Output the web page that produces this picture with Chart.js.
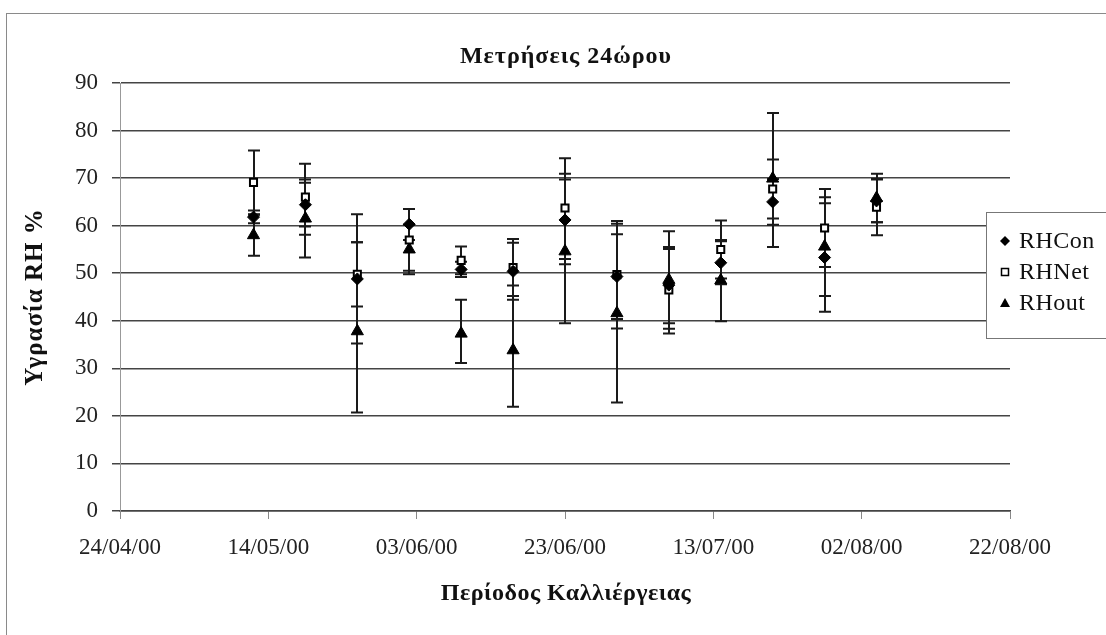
<!DOCTYPE html>
<html><head><meta charset="utf-8">
<script src="https://cdn.jsdelivr.net/npm/chart.js@4.4.0/dist/chart.umd.min.js"></script>
<style>html,body{margin:0;padding:0;background:#fff;}#wrap{position:relative;width:1106px;height:635px;}</style>
</head><body><div id="wrap"><canvas id="c" width="1106" height="635"></canvas></div>
<script>
// ---- data ----
const dates = ['12/05/00','19/05/00','26/05/00','02/06/00','09/06/00','16/06/00','23/06/00','30/06/00','07/07/00','14/07/00','21/07/00','28/07/00','04/08/00'];
const tickLabels = ['24/04/00','14/05/00','03/06/00','23/06/00','13/07/00','02/08/00','22/08/00'];
const seriesNames = ['RHCon','RHNet','RHout'];

const rhCon     = [61.8, 64.4, 48.8, 60.3, 50.8, 50.4, 61.2, 49.3, 47.5, 52.2, 65.0, 53.3, 65.2];
const rhConLow  = [60.5, 59.8, 35.2, 57.0, 49.2, 44.4, 51.9, 40.4, 39.5, 47.7, 60.2, 41.9, 60.7];
const rhConHigh = [63.2, 69.0, 62.4, 63.5, 52.4, 56.4, 70.9, 58.2, 55.5, 56.7, 69.8, 64.7, 69.7];

const rhNet     = [69.1, 66.0, 49.8, 57.0, 52.7, 51.2, 63.7, 49.7, 46.5, 55.0, 67.7, 59.5, 63.9];
const rhNetLow  = [62.4, 58.1, 43.0, 50.5, 49.8, 45.2, 53.0, 38.4, 37.3, 48.9, 61.5, 51.3, 58.0];
const rhNetHigh = [75.8, 73.0, 56.5, 63.5, 55.6, 57.2, 74.2, 61.0, 55.1, 61.1, 73.9, 67.7, 69.8];

const rhOut     = [58.0, 61.5, 37.8, 55.0, 37.3, 33.8, 54.6, 41.6, 48.6, 48.5, 69.9, 55.6, 65.8];
const rhOutLow  = [53.7, 53.3, 20.7, 49.8, 31.1, 21.9, 39.5, 22.8, 38.3, 39.9, 55.5, 45.2, 60.7];
const rhOutHigh = [62.3, 69.7, 56.5, 60.2, 44.4, 47.4, 69.7, 60.4, 58.8, 57.0, 83.7, 66.0, 70.9];

// ---- helpers ----
function dayNum(s){const p=s.split('/').map(Number);return Date.UTC(2000+p[2],p[1]-1,p[0])/86400000;}
const origin = dayNum(tickLabels[0]);
const xMax = dayNum(tickLabels[tickLabels.length-1]) - origin;
const xs = dates.map(d => dayNum(d) - origin);
const pts = arr => arr.map((v,i)=>({x:xs[i], y:v}));

const FONT = "'Liberation Serif','Times New Roman',serif";

const errBars = {
  id:'errBars',
  beforeDatasetsDraw(chart){
    const {ctx, scales:{x,y}} = chart;
    ctx.save();
    ctx.strokeStyle = '#1a1a1a';
    ctx.lineWidth = 2;
    chart.data.datasets.forEach(ds=>{
      ds.errLow.forEach((lo,i)=>{
        const hi = ds.errHigh[i];
        if(lo==null || hi==null) return;
        const px = Math.round(x.getPixelForValue(ds.data[i].x));
        const y1 = y.getPixelForValue(lo), y2 = y.getPixelForValue(hi);
        ctx.beginPath();
        ctx.moveTo(px, y1); ctx.lineTo(px, y2);
        ctx.moveTo(px-6, y1); ctx.lineTo(px+6, y1);
        ctx.moveTo(px-6, y2); ctx.lineTo(px+6, y2);
        ctx.stroke();
      });
    });
    ctx.restore();
  }
};

function marker(ctx, style, cx, cy){
  ctx.save();
  ctx.fillStyle='#000'; ctx.strokeStyle='#000'; ctx.lineWidth=1.5;
  ctx.beginPath();
  if(style==='rectRot'){ ctx.moveTo(cx,cy-5);ctx.lineTo(cx+5,cy);ctx.lineTo(cx,cy+5);ctx.lineTo(cx-5,cy);ctx.closePath();ctx.fill(); }
  else if(style==='rect'){ ctx.fillStyle='#fff'; ctx.rect(cx-3.5,cy-3.5,7,7); ctx.fill(); ctx.stroke(); }
  else { ctx.moveTo(cx,cy-5);ctx.lineTo(cx+5,cy+4);ctx.lineTo(cx-5,cy+4);ctx.closePath();ctx.fill(); }
  ctx.restore();
}

const decor = {
  id:'decor',
  beforeDraw(chart){
    const ctx = chart.ctx;
    ctx.save();
    ctx.strokeStyle='#8a8a8a'; ctx.lineWidth=1;
    ctx.strokeRect(6.5, 13.5, 1200, 700);
    ctx.restore();
  },
  afterDraw(chart){
    const ctx = chart.ctx;
    ctx.save();
    ctx.fillStyle='#111';
    ctx.textAlign='center'; ctx.textBaseline='middle';
    ctx.font = "bold 24px " + FONT;
    ctx.letterSpacing = '1px';
    ctx.fillText('Μετρήσεις 24ώρου', 566, 57);
    ctx.font = "bold 24px " + FONT;
    ctx.letterSpacing = '0.5px';
    ctx.fillText('Περίοδος Καλλιέργειας', 566, 594);
    ctx.save();
    ctx.translate(36, 297); ctx.rotate(-Math.PI/2);
    ctx.font = "bold 25px " + FONT;
    ctx.letterSpacing = '1px';
    ctx.fillText('Υγρασία RH %', 0, 0);
    ctx.restore();
    ctx.letterSpacing = '0px';
    // legend
    ctx.fillStyle='#fff';
    ctx.fillRect(986, 212, 130, 126);
    ctx.strokeStyle='#777'; ctx.lineWidth=1;
    ctx.strokeRect(986.5, 212.5, 130, 126);
    const styles=['rectRot','rect','triangle'];
    const rows=[241,272,303];
    ctx.font = "24px " + FONT;
    ctx.letterSpacing = '0.5px';
    ctx.textAlign='left'; ctx.fillStyle='#111';
    seriesNames.forEach((n,i)=>{
      marker(ctx, styles[i], 1005, rows[i]);
      ctx.fillText(n, 1019, rows[i]+1);
    });
    ctx.restore();
  }
};

new Chart(document.getElementById('c'), {
  type:'scatter',
  data:{
    datasets:[
      {label:seriesNames[0], data:pts(rhCon), errLow:rhConLow, errHigh:rhConHigh,
       pointStyle:'rectRot', pointRadius:6, backgroundColor:'#000', borderColor:'#000', borderWidth:1},
      {label:seriesNames[1], data:pts(rhNet), errLow:rhNetLow, errHigh:rhNetHigh,
       pointStyle:'rect', pointRadius:5, backgroundColor:'#fff', borderColor:'#000', borderWidth:2},
      {label:seriesNames[2], data:pts(rhOut), errLow:rhOutLow, errHigh:rhOutHigh,
       pointStyle:'triangle', pointRadius:7, backgroundColor:'#000', borderColor:'#000', borderWidth:1}
    ]
  },
  options:{
    responsive:false, animation:false, devicePixelRatio:1,
    layout:{padding:{left:0, top:83, right:96, bottom:0}},
    plugins:{legend:{display:false}, title:{display:false}, tooltip:{enabled:false}},
    scales:{
      x:{type:'linear', min:0, max:xMax,
         afterFit:s=>{s.height=124;},
         ticks:{stepSize:20, padding:15, color:'#222', font:{family:FONT, size:23},
                callback:v=>tickLabels[Math.round(v/20)] ?? ''},
         grid:{drawOnChartArea:false, drawTicks:true, tickLength:8, color:'#888'},
         border:{color:'#444', width:1.5}},
      y:{min:0, max:90,
         afterFit:s=>{s.width=120;},
         ticks:{stepSize:10, padding:14, color:'#222', font:{family:FONT, size:23}},
         grid:{color:'#444', lineWidth:1.5, tickLength:8, drawTicks:true},
         border:{color:'#999', width:1}}
    }
  },
  plugins:[errBars, decor]
});
</script></body></html>
